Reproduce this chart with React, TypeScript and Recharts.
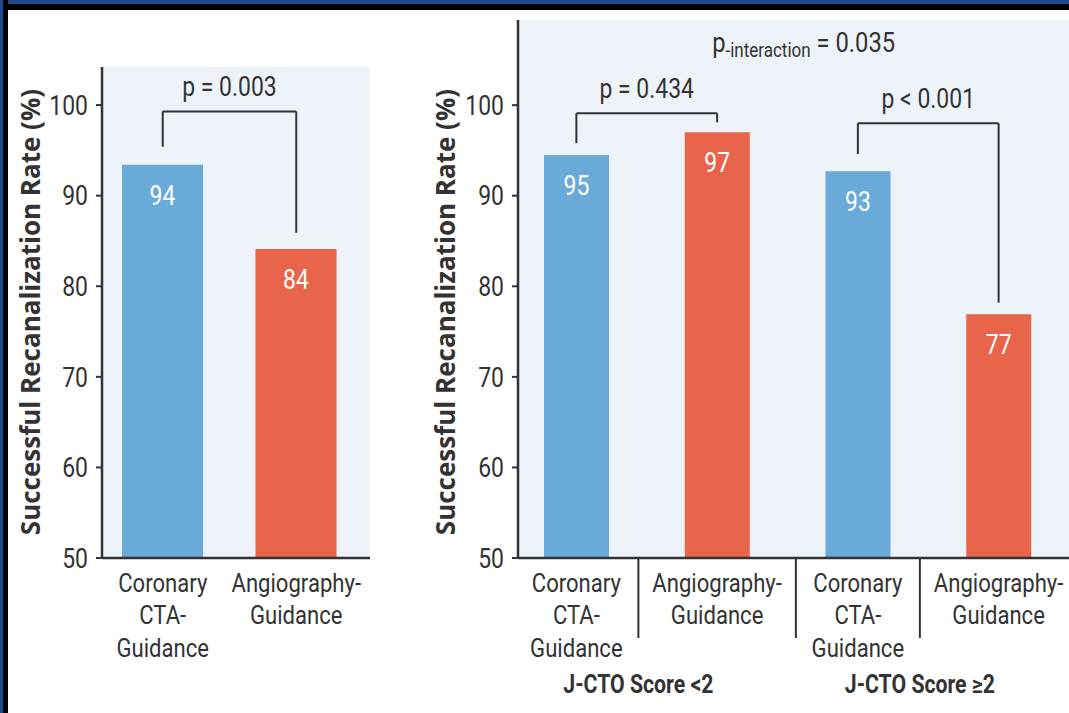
import React from 'react';
import {
  BarChart, Bar, XAxis, YAxis, CartesianGrid, Cell, LabelList, ReferenceLine,
} from 'recharts';

// fonts / palette
const SANS = 'Roboto, "Noto Sans", sans-serif';
const BOLD = '"Open Sans", "Noto Sans", sans-serif';
const SQUEEZE = 0.85; // reference face is a condensed sans
const INK = '#333333';
const BLUE = '#6aaad9';
const RED = '#e8644b';
const PANEL_BG = '#eef3fa';
const NAVY = '#1d4b8f';

// overall cohort
const overallCategories = ['cta', 'angio'];
const overallRates = [93.4, 84.1];
const overallLabels = ['94', '84'];

// by J-CTO score
const jctoCategories = ['cta-lt2', 'angio-lt2', 'cta-ge2', 'angio-ge2'];
const jctoRates = [94.5, 97.0, 92.7, 76.9];
const jctoLabels = ['95', '97', '93', '77'];
const jctoGroups = ['J-CTO Score <2', 'J-CTO Score ≥2'];

const yTicks = [50, 60, 70, 80, 90, 100];
const Y_TITLE = 'Successful Recanalization Rate (%)';

const ctaLines = ['Coronary', 'CTA-', 'Guidance'];
const angioLines = ['Angiography-', 'Guidance'];

// significance brackets (y in % units)
const overallBrackets = [
  { from: 'cta', to: 'angio', fromY: 95.4, toY: 85.9, topY: 99.3, text: 'p = 0.003' },
];
const jctoBrackets = [
  { from: 'cta-lt2', to: 'angio-lt2', fromY: 95.8, toY: 98.1, topY: 99.1, text: 'p = 0.434' },
  { from: 'cta-ge2', to: 'angio-ge2', fromY: 94.6, toY: 78.2, topY: 98.0, text: 'p < 0.001' },
];
const interaction = { at: 'angio-lt2', y: 105.9, text: '= 0.035' };

const overallData = overallCategories.map((cat, i) => ({ cat, rate: overallRates[i], label: overallLabels[i] }));
const jctoData = jctoCategories.map((cat, i) => ({ cat, rate: jctoRates[i], label: jctoLabels[i] }));

const isCta = (cat: string) => cat.startsWith('cta');

// text drawn with a horizontal squeeze to mimic the condensed face
const Squeezed = ({ x, y, size, anchor = 'middle', weight = 400, fill = INK, dy, children }: any) => (
  <text
    transform={`translate(${x} ${y}) scale(${SQUEEZE} 1)`} dy={dy} textAnchor={anchor}
    fill={fill} fontSize={size} fontWeight={weight} fontFamily={SANS}
  >
    {children}
  </text>
);

const GuidanceTick = ({ x, y, payload, index, grouped }: any) => {
  const cta = isCta(payload.value);
  const lines = cta ? ctaLines : angioLines;
  return (
    <g>
      <Squeezed x={x} y={y} size={26}>
        {lines.map((l, i) => (
          <tspan key={i} x={0} dy={i === 0 ? 34 : 32.5}>{l}</tspan>
        ))}
      </Squeezed>
      {grouped && cta && (
        <>
          {index > 0 && <line x1={x - 62} x2={x - 62} y1={y} y2={y + 80} stroke={INK} strokeWidth={2} />}
          <line x1={x + 62} x2={x + 62} y1={y} y2={y + 80} stroke={INK} strokeWidth={2} />
          <Squeezed x={x + 62} y={y + 135} size={25} weight={700}>{jctoGroups[Math.floor(index / 2)]}</Squeezed>
        </>
      )}
    </g>
  );
};

const ValueTick = ({ x, y, payload }: any) => (
  <Squeezed x={x} y={y} size={27} anchor="end" dy="0.36em">{payload.value}</Squeezed>
);

const BarValue = ({ x, y, width, value }: any) => (
  <Squeezed x={x + width / 2} y={y + 40} size={27} fill="#fff">{value}</Squeezed>
);

const yTitle = (dx: number, cy: number) => (props: any) => {
  const cx = props.viewBox.x + dx;
  return (
    <text
      x={cx} y={cy} transform={`rotate(-90 ${cx} ${cy})`} textAnchor="middle" dominantBaseline="central"
      fill={INK} fontSize={26} fontWeight={700} fontFamily={BOLD}
    >
      {Y_TITLE}
    </text>
  );
};

const pLabel = (text: string) => (props: any) => {
  const vb = props.viewBox;
  return <Squeezed x={vb.x + vb.width / 2} y={vb.y - 15} size={27}>{text}</Squeezed>;
};

const renderBrackets = (list: typeof jctoBrackets) =>
  list.flatMap((b, i) => [
    <ReferenceLine key={`l${i}`} segment={[{ x: b.from, y: b.fromY }, { x: b.from, y: b.topY }]} stroke={INK} strokeWidth={2} />,
    <ReferenceLine key={`r${i}`} segment={[{ x: b.to, y: b.toY }, { x: b.to, y: b.topY }]} stroke={INK} strokeWidth={2} />,
    <ReferenceLine
      key={`t${i}`}
      segment={[{ x: b.from, y: b.topY }, { x: b.to, y: b.topY }]}
      stroke={INK} strokeWidth={2} label={pLabel(b.text)}
    />,
  ]);

const axisLine = { stroke: INK, strokeWidth: 2.5 };

export default function App() {
  return (
    <div style={{ position: 'relative', width: 1069, height: 713, background: '#fff', overflow: 'hidden' }}>
      <style>{'body{margin:0}'}</style>

      <div style={{ position: 'absolute', left: 0, top: 0 }}>
        <BarChart width={400} height={713} data={overallData} margin={{ top: 67, right: 30, bottom: 0, left: 0 }}>
          <CartesianGrid fill={PANEL_BG} horizontal={false} vertical={false} />
          <XAxis
            dataKey="cat" height={155} interval={0} tickLine={false} tickSize={0} tickMargin={0}
            axisLine={axisLine} padding={{ left: -6, right: 7 }} tick={<GuidanceTick />}
          />
          <YAxis
            width={102} domain={[50, 104.2]} allowDataOverflow ticks={yTicks} axisLine={axisLine}
            tickLine={{ stroke: INK, strokeWidth: 2 }} tickSize={6} tickMargin={8}
            tick={<ValueTick />} label={yTitle(30, 312)}
          />
          {renderBrackets(overallBrackets)}
          <Bar dataKey="rate" barSize={81} isAnimationActive={false}>
            {overallData.map((d) => <Cell key={d.cat} fill={isCta(d.cat) ? BLUE : RED} />)}
            <LabelList dataKey="label" content={<BarValue />} />
          </Bar>
        </BarChart>
      </div>

      <div style={{ position: 'absolute', left: 400, top: 0 }}>
        <BarChart width={669} height={713} data={jctoData} margin={{ top: 20, right: 0, bottom: 0, left: 0 }}>
          <CartesianGrid fill={PANEL_BG} horizontal={false} vertical={false} />
          <XAxis
            dataKey="cat" height={155} interval={0} tickLine={false} tickSize={0} tickMargin={0}
            axisLine={axisLine} padding={{ left: -12, right: 0 }} tick={<GuidanceTick grouped />}
          />
          <YAxis
            width={118} domain={[50, 109.4]} allowDataOverflow ticks={yTicks} axisLine={axisLine}
            tickLine={{ stroke: INK, strokeWidth: 2 }} tickSize={6} tickMargin={8}
            tick={<ValueTick />} label={yTitle(45, 312)}
          />
          {renderBrackets(jctoBrackets)}
          <ReferenceLine
            segment={[{ x: interaction.at, y: interaction.y }, { x: interaction.at, y: interaction.y }]}
            stroke="none"
            label={(props: any) => {
              const vb = props.viewBox;
              return (
                <Squeezed x={vb.x - 5} y={vb.y} size={28} anchor="start">
                  p<tspan fontSize={20} dy={5}>-interaction</tspan>
                  <tspan dy={-5}> {interaction.text}</tspan>
                </Squeezed>
              );
            }}
          />
          <Bar dataKey="rate" barSize={65} isAnimationActive={false}>
            {jctoData.map((d) => <Cell key={d.cat} fill={isCta(d.cat) ? BLUE : RED} />)}
            <LabelList dataKey="label" content={<BarValue />} />
          </Bar>
        </BarChart>
      </div>

      {/* dark frame */}
      <div style={{ position: 'absolute', left: 0, top: 0, width: 1069, height: 10, background: `linear-gradient(to bottom, ${NAVY} 0 40%, #000 40%)` }} />
      <div style={{ position: 'absolute', left: 0, top: 0, width: 8, height: 713, background: `linear-gradient(to right, ${NAVY} 0 40%, #000 40%)` }} />
    </div>
  );
}
